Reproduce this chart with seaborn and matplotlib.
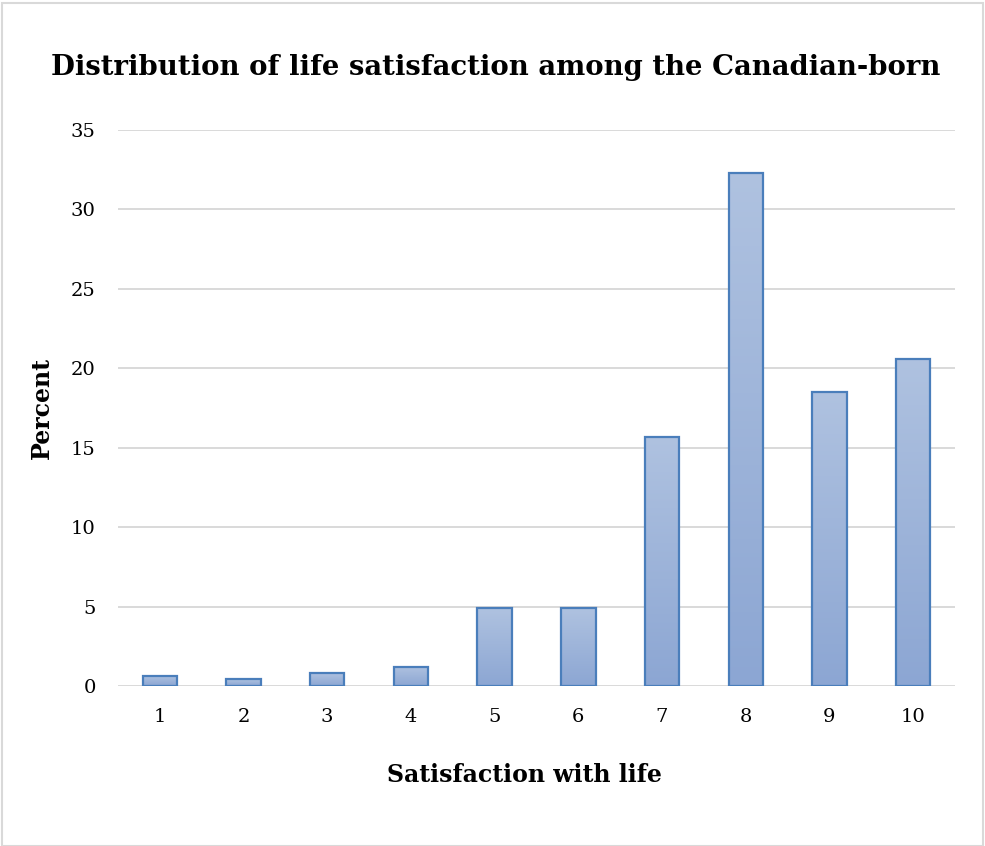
import matplotlib
matplotlib.use("Agg")
import matplotlib.pyplot as plt
import seaborn as sns
import pandas as pd
import numpy as np
from matplotlib.patches import Rectangle
from matplotlib.colors import LinearSegmentedColormap

categories = ["1", "2", "3", "4", "5", "6", "7", "8", "9", "10"]
percent = [0.63, 0.44, 0.8, 1.2, 4.9, 4.9, 15.7, 32.3, 18.5, 20.6]
yticks = [0, 5, 10, 15, 20, 25, 30, 35]

df = pd.DataFrame({"sat": categories, "pct": percent})

sns.set_theme(style="white")
plt.rcParams["font.family"] = ["DejaVu Serif"]
plt.rcParams["text.color"] = "black"
plt.rcParams["axes.labelcolor"] = "black"

fig = plt.figure(figsize=(9.85, 8.46), dpi=100)
ax = fig.add_axes([118 / 985, 0.189, (955 - 118) / 985, 0.6573])

sns.barplot(data=df, x="sat", y="pct", order=categories, color="#9DB3D9",
            width=0.41, edgecolor="#4A7EBB", linewidth=1.6, saturation=1, ax=ax)

# gradient fill inside bars
grad = np.linspace(0, 1, 256).reshape(-1, 1)
cmap = LinearSegmentedColormap.from_list("g", ["#8CA6D3", "#AFC2E0"])
for p in list(ax.patches):
    x0, y0 = p.get_x(), p.get_y()
    w, h = p.get_width(), p.get_height()
    im = ax.imshow(grad, extent=[x0, x0 + w, y0, y0 + h], origin="lower",
                   cmap=cmap, aspect="auto", zorder=p.get_zorder() - 0.1)
    im.set_clip_path(p)
    p.set_facecolor("none")

ax.set_xlim(-0.5, 9.5)
ax.set_ylim(0, 35)
ax.set_yticks(yticks)
ax.yaxis.grid(True, color="#D9D9D9", linewidth=1.4)
ax.set_axisbelow(True)
for s in ax.spines.values():
    s.set_visible(False)
ax.tick_params(axis="both", length=0, labelsize=14, colors="black")
ax.tick_params(axis="y", pad=16)
ax.tick_params(axis="x", pad=16)

ax.set_xlabel("Satisfaction with life", fontsize=17, fontweight="bold")
ax.xaxis.set_label_coords((524 - 118) / 837, -(775 - 686) / 556, transform=ax.transAxes)
ax.xaxis.label.set_va("center")
ax.set_ylabel("Percent", fontsize=17, fontweight="bold", labelpad=12)
fig.text(496 / 985, 1 - 67 / 846, "Distribution of life satisfaction among the Canadian-born",
         ha="center", va="center", fontsize=19.8, fontweight="bold")

fig.patches.append(Rectangle((2 / 985, 0), 1 - 4 / 985, 1 - 3 / 846, transform=fig.transFigure,
                             fill=False, edgecolor="#D9D9D9", linewidth=1.5))

fig.savefig("out.png", dpi=100)
